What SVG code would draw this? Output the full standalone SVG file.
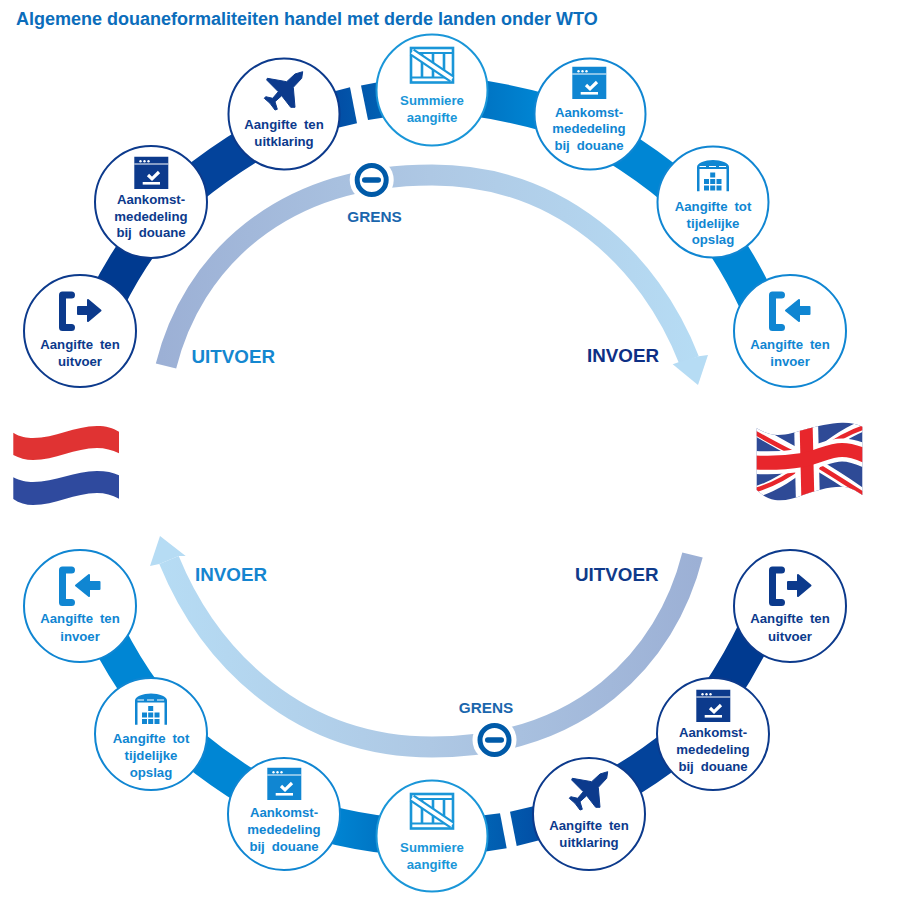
<svg xmlns="http://www.w3.org/2000/svg" width="900" height="904" viewBox="0 0 900 904">
<style>
text{font-family:"Liberation Sans",Arial,sans-serif;font-weight:700}
.node text{font-size:13.2px;word-spacing:3.3px;text-anchor:middle;fill:currentColor}
.node>circle{fill:#fff;stroke:currentColor;stroke-width:2}
.dk{color:#0c3a8c}
.lt{color:#1086d2}
.su{color:#1a96d8}
.band{fill:none;stroke-width:37}
.big{font-size:18.8px}
.gr{font-size:15.3px;fill:#1a66ad;text-anchor:middle}
</style>
<defs>
<linearGradient id="gTop" gradientUnits="userSpaceOnUse" x1="160" y1="0" x2="700" y2="0"><stop offset="0" stop-color="#9cb0d5"/><stop offset="0.5" stop-color="#aec8e4"/><stop offset="1" stop-color="#b6dcf4"/></linearGradient>
<linearGradient id="gBot" gradientUnits="userSpaceOnUse" x1="700" y1="0" x2="160" y2="0"><stop offset="0" stop-color="#9cb0d5"/><stop offset="0.5" stop-color="#aec8e4"/><stop offset="1" stop-color="#b6dcf4"/></linearGradient>
<linearGradient id="gGapT" gradientUnits="userSpaceOnUse" x1="320" y1="0" x2="400" y2="0"><stop offset="0" stop-color="#0347a0"/><stop offset="1" stop-color="#0068b8"/></linearGradient>
<linearGradient id="gGapB" gradientUnits="userSpaceOnUse" x1="560" y1="0" x2="470" y2="0"><stop offset="0" stop-color="#0347a0"/><stop offset="1" stop-color="#0068b8"/></linearGradient>
<linearGradient id="gLtT" gradientUnits="userSpaceOnUse" x1="480" y1="0" x2="540" y2="0"><stop offset="0" stop-color="#0073c2"/><stop offset="1" stop-color="#0086d4"/></linearGradient>
<linearGradient id="gLtB" gradientUnits="userSpaceOnUse" x1="385" y1="0" x2="330" y2="0"><stop offset="0" stop-color="#0073c2"/><stop offset="1" stop-color="#0086d4"/></linearGradient>
<clipPath id="ukClip"><path d="M756.7,428.3C765,433 771,435 778,435C788,435 795,432 803,430C818,426 830,423 842,422.7C850,422.5 857,424 862.3,426.7V495C855,490 850,487 842,486.7C828,486.5 815,491 803,495C793,499 785,501 775,500C768,499 762,495 756.7,490Z"/></clipPath>
<g id="iExit"><path d="M-8.5,-36H-17.5V-3.5H-8.5" fill="none" stroke="currentColor" stroke-width="7" stroke-linejoin="round" stroke-linecap="round"/><path d="M-2,-24H8V-31L20.5,-20.5L8,-10V-17H-2Z" fill="currentColor" stroke="currentColor" stroke-width="2" stroke-linejoin="round"/></g>
<g id="iEntry"><path d="M-8.5,-36H-17.5V-3.5H-8.5" fill="none" stroke="currentColor" stroke-width="7" stroke-linejoin="round" stroke-linecap="round"/><path d="M19.5,-24H9V-31L-4,-20.5L9,-10V-17H19.5Z" fill="currentColor" stroke="currentColor" stroke-width="2" stroke-linejoin="round"/></g>
<g id="iDoc"><path d="M-16.7,-45.3H17.3V-13H-16.7Z" fill="currentColor"/><path d="M-16.7,-38H17.3" stroke="#fff" stroke-width="1"/><g fill="#fff"><circle cx="-10.5" cy="-40.8" r="1.2"/><circle cx="-6.5" cy="-40.8" r="1.2"/><circle cx="-2.5" cy="-40.8" r="1.2"/></g><path d="M-3,-27L1,-23.2L8,-30" fill="none" stroke="#fff" stroke-width="3.2"/><path d="M-8.3,-18.7H9" stroke="#fff" stroke-width="2.6"/></g>
<path id="iPlane" d="M18.7,-42.3L17.7,-35.7L9.3,-26.7L11,-6.7L6.7,-6.7L-2.3,-18.3L-9,-12.3L-6.7,-4.7L-9,-4L-14,-10.7L-19.7,-15.7L-18.3,-17.3L-11.3,-15.7L-5.7,-22.3L-17.3,-34L-16.7,-35.7L2.7,-32.3L11,-40Z" fill="currentColor" stroke="currentColor" stroke-width="1" stroke-linejoin="round"/>
<g id="iCrate" fill="none" stroke="currentColor"><rect x="-21" y="-42" width="42" height="34.5" stroke-width="2.6"/><path d="M-21,-37H21M-21,-12.5H21" stroke-width="2.2"/><path d="M-10,-36V-13M1,-36V-13M12,-36V-13" stroke-width="2.6"/><path d="M-20,-38L20,-11" stroke-width="8"/><path d="M-20,-38L20,-11" stroke="#fff" stroke-width="3.6"/></g>
<g id="iStore"><path d="M-16,-10.7V-35C-16,-39 -8,-42 0,-42C8,-42 16,-39 16,-35V-10.7H13.5V-33H-13.5V-10.7Z" fill="currentColor"/><path d="M-13.5,-35.5H-7M-4,-35.5H3M6,-35.5H13" stroke="#fff" stroke-width="1"/><g fill="currentColor"><rect x="-2.8" y="-29.5" width="5" height="5"/><rect x="-2.8" y="-23" width="5" height="5"/><rect x="-9" y="-23" width="5" height="5"/><rect x="3.5" y="-23" width="5" height="5"/><rect x="-9" y="-16.5" width="5" height="5"/><rect x="-2.8" y="-16.5" width="5" height="5"/><rect x="3.5" y="-16.5" width="5" height="5"/></g></g>
</defs>
<rect width="900" height="904" fill="#fff"/>
<text id="title" x="16" y="25" font-size="18" fill="#0b6dbb">Algemene douaneformaliteiten handel met derde landen onder WTO</text>

<g id="connectors">
<path class="band" stroke="#003a90" d="M106.3,300.9Q121.9,269 142.7,240.1"/>
<path class="band" stroke="#03439b" d="M187.7,188.6Q219.8,162.5 255.3,141.4"/>
<polygon fill="url(#gGapT)" points="320,95 350,87.3 357,123.3 320,132"/>
<polygon fill="url(#gGapT)" points="361,85.5 400,78 400,115 368,120"/>
<path class="band" stroke="url(#gLtT)" d="M469.3,96.9Q510.6,102.6 550.7,114.1"/>
<path class="band" stroke="#0086d4" d="M613.8,144.3Q647.2,164.6 677.2,189.7"/>
<path class="band" stroke="#0086d4" d="M721.7,238.9Q743.1,271 759.3,306.1"/>
<path class="band" stroke="#003a90" d="M757.4,628Q740.6,663.5 718.6,696"/>
<path class="band" stroke="#03439b" d="M677.4,744.5Q649.2,767.5 617.6,785.5"/>
<polygon fill="url(#gGapB)" points="470,817 500,813.3 506.7,848.3 470,854"/>
<polygon fill="url(#gGapB)" points="510,811.7 560,800 560,835 516.7,846"/>
<path class="band" stroke="url(#gLtB)" d="M393.7,835.7Q357,832 321.3,822.3"/>
<path class="band" stroke="#0086d4" d="M253.2,790.7Q218.8,770 187.8,744.3"/>
<path class="band" stroke="#0086d4" d="M144.8,695.8Q123.4,666.6 107.2,634.2"/>

<path fill="none" stroke="url(#gTop)" stroke-width="21" d="M166,366C192,262 280,175 432,175C560,175 650,260 689,360"/>
<polygon fill="#b6dcf4" points="698,385 672.7,364.3 679.2,362 698.8,356.2 708,355"/>
<path fill="none" stroke="url(#gBot)" stroke-width="21" d="M692.5,555C666,660 580,747 432,747C300,747 210,660 169,560"/>
<polygon fill="#b6dcf4" points="160,536 185.7,556 178.7,556 159.3,564 150,566"/>
</g>

<g id="grens-top"><circle cx="371.7" cy="180" r="22" fill="#fff"/><circle cx="371.7" cy="180" r="14.5" fill="#fff" stroke="#005aa8" stroke-width="5"/><rect x="362" y="177.2" width="19" height="5.6" rx="2.8" fill="#005aa8"/><text class="gr" x="374.5" y="221.7">GRENS</text></g>
<g id="grens-bottom"><circle cx="494.5" cy="740" r="22" fill="#fff"/><circle cx="494.5" cy="740" r="14.5" fill="#fff" stroke="#005aa8" stroke-width="5"/><rect x="485" y="737.2" width="19" height="5.6" rx="2.8" fill="#005aa8"/><text class="gr" x="486" y="713">GRENS</text></g>

<text id="l-uitvoer-top" class="big" x="191.5" y="363" fill="#1487d0">UITVOER</text>
<text id="l-invoer-top" class="big" x="587" y="362" fill="#0d2f85">INVOER</text>
<text id="l-uitvoer-bottom" class="big" x="575" y="580.5" fill="#0f3a8a">UITVOER</text>
<text id="l-invoer-bottom" class="big" x="195" y="580.5" fill="#1585d0">INVOER</text>

<g id="n1" class="node dk" transform="translate(80,331)"><circle r="56"/><use href="#iExit"/><text y="18">Aangifte ten</text><text y="34.7">uitvoer</text></g>
<g id="n2" class="node dk" transform="translate(151,202)"><circle r="56"/><use href="#iDoc"/><text y="2">Aankomst-</text><text y="18.7">mededeling</text><text y="35">bij douane</text></g>
<g id="n3" class="node dk" transform="translate(284,114)"><circle r="55.5"/><use href="#iPlane"/><text y="15">Aangifte ten</text><text y="31.7">uitklaring</text></g>
<g id="n4" class="node su" transform="translate(432,90)"><circle r="55.5"/><use href="#iCrate"/><text y="15">Summiere</text><text y="31.7">aangifte</text></g>
<g id="n5" class="node lt" transform="translate(590,114)"><circle r="55.5"/><use href="#iDoc" transform="translate(-1,-2)"/><text y="2.5" x="-1">Aankomst-</text><text y="19" x="-1">mededeling</text><text y="35.5" x="-1">bij douane</text></g>
<g id="n6" class="node lt" transform="translate(713,202)"><circle r="55.5"/><use href="#iStore"/><text y="9">Aangifte tot</text><text y="25.7">tijdelijke</text><text y="42">opslag</text></g>
<g id="n7" class="node lt" transform="translate(790,331)"><circle r="56"/><use href="#iEntry"/><text y="18">Aangifte ten</text><text y="34.7">invoer</text></g>

<g id="n8" class="node dk" transform="translate(790,606)"><circle r="56"/><use href="#iExit"/><text y="17.3">Aangifte ten</text><text y="34.7">uitvoer</text></g>
<g id="n9" class="node dk" transform="translate(713,734)"><circle r="56"/><use href="#iDoc" transform="translate(0,1)"/><text y="3.3">Aankomst-</text><text y="20">mededeling</text><text y="36.7">bij douane</text></g>
<g id="n10" class="node dk" transform="translate(589,814)"><circle r="56"/><use href="#iPlane"/><text y="16">Aangifte ten</text><text y="32.7">uitklaring</text></g>
<g id="n11" class="node su" transform="translate(432,836)"><circle r="55.5"/><use href="#iCrate"/><text y="16">Summiere</text><text y="32.7">aangifte</text></g>
<g id="n12" class="node lt" transform="translate(284,814)"><circle r="56"/><use href="#iDoc" transform="translate(0,-1)"/><text y="3.3">Aankomst-</text><text y="20">mededeling</text><text y="36.7">bij douane</text></g>
<g id="n13" class="node lt" transform="translate(151,734)"><circle r="56"/><use href="#iStore" transform="translate(0,1.5)"/><text y="9.3">Aangifte tot</text><text y="26">tijdelijke</text><text y="42.7">opslag</text></g>
<g id="n14" class="node lt" transform="translate(80,606)"><circle r="56"/><use href="#iEntry"/><text y="17.3">Aangifte ten</text><text y="35">invoer</text></g>

<g id="flag-nl">
<path fill="#e03333" d="M13.3,432.7C20,437 27,438 33,438C55,438 75,426 97,426C106,426 113,428 119,431.7V453.3C112,450 105,448 97,448C75,448 55,460 33,460C26,460 19,458 13.3,455Z"/>
<path fill="#2f4a9e" d="M13.3,477.3C20,481 27,482 33,482C55,482 75,471 97,471C106,471 113,472.5 119,475.3V498.7C112,495 105,493 97,493C75,493 55,505 33,505C26,505 19,503 13.3,499Z"/>
</g>
<g id="flag-uk" clip-path="url(#ukClip)">
<rect x="750" y="415" width="120" height="90" fill="#2e4a96"/>
<path d="M752,428C780,445 800,455 812,462C830,472 850,485 868,498M752,493C775,487 795,472 808,462C825,448 845,432 868,424" fill="none" stroke="#fff" stroke-width="11"/>
<path d="M752,431C775,444 790,452 804,458M820,467C835,476 850,486 868,497M752,491C775,485 790,475 802,466M818,452C835,440 850,431 868,426" fill="none" stroke="#e8262c" stroke-width="4.5"/>
<path d="M806,420L808,505" stroke="#fff" stroke-width="24"/>
<path d="M750,462C770,464 790,462 803,460C820,456 830,450 842,450C850,450 857,452 868,457" fill="none" stroke="#fff" stroke-width="23"/>
<path d="M806,420L808,505" stroke="#e8262c" stroke-width="13"/>
<path d="M750,462C770,464 790,462 803,460C820,456 830,450 842,450C850,450 857,452 868,457" fill="none" stroke="#e8262c" stroke-width="14"/>
</g>
</svg>
